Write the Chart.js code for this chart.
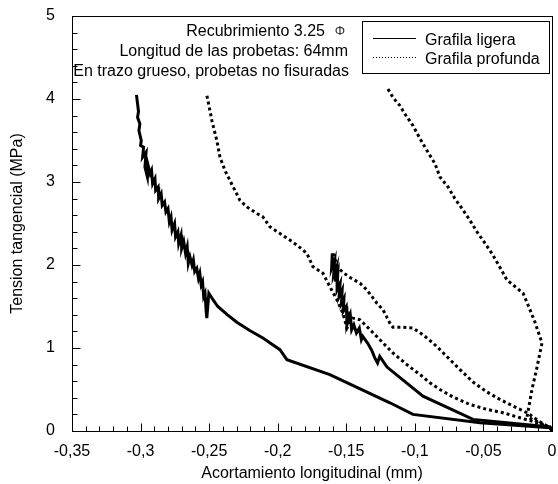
<!DOCTYPE html>
<html>
<head>
<meta charset="utf-8">
<script src="https://cdn.jsdelivr.net/npm/chart.js@4.4.0/dist/chart.umd.min.js"></script>
<style>
html, body { margin: 0; padding: 0; background: #fff; }
</style>
</head>
<body>
<canvas id="grafica" width="558" height="484"></canvas>
<script>
// ejes
const xTickValues = [-0.35, -0.3, -0.25, -0.2, -0.15, -0.1, -0.05, 0];
const xTickLabels = ['-0,35', '-0,3', '-0,25', '-0,2', '-0,15', '-0,1', '-0,05', '0'];
const yTickValues = [0, 1, 2, 3, 4, 5];
const yTickLabels = ['0', '1', '2', '3', '4', '5'];

// Grafila ligera (trazo continuo)
const ligera1X = [-0.3030, -0.3015, -0.3022, -0.3005, -0.3012, -0.2995, -0.3000, -0.2978, -0.2985, -0.2960,
  -0.2968, -0.2950, -0.2945, -0.2930, -0.2920, -0.2912, -0.2895, -0.2890, -0.2872, -0.2868,
  -0.2850, -0.2842, -0.2825, -0.2815, -0.2800, -0.2790, -0.2778, -0.2770, -0.2752, -0.2745,
  -0.2728, -0.2722, -0.2705, -0.2700, -0.2685, -0.2672, -0.2660, -0.2652, -0.2640, -0.2625,
  -0.2615, -0.2605, -0.2590, -0.2578, -0.2568, -0.2558, -0.2548, -0.2540, -0.2530, -0.2522,
  -0.2517, -0.2502, -0.2467, -0.2437, -0.2366, -0.2298, -0.2204, -0.2108, -0.1984, -0.1933,
  -0.1620, -0.1182, -0.1014, -0.0525, -0.0014, 0];
const ligera1Y = [4.05, 3.85, 3.78, 3.70, 3.62, 3.50, 3.44, 3.42, 3.30, 3.36,
  3.18, 3.06, 3.20, 3.10, 3.14, 2.98, 3.04, 2.90, 2.94, 2.80,
  2.86, 2.72, 2.76, 2.64, 2.68, 2.52, 2.58, 2.42, 2.50, 2.34,
  2.40, 2.26, 2.36, 2.20, 2.28, 2.14, 2.22, 2.02, 2.10, 2.00,
  2.06, 1.92, 1.96, 1.84, 1.90, 1.76, 1.80, 1.62, 1.66, 1.45,
  1.36, 1.66, 1.57, 1.50, 1.40, 1.31, 1.21, 1.12, 0.98, 0.86,
  0.68, 0.34, 0.20, 0.10, 0.04, 0];

const ligera2X = [-0.1602, -0.1607, -0.1585, -0.1592, -0.1570, -0.1580, -0.1562, -0.1567, -0.1545, -0.1552,
  -0.1530, -0.1535, -0.1517, -0.1522, -0.1500, -0.1496, -0.1485, -0.1491, -0.1471, -0.1461,
  -0.1445, -0.1426, -0.1405, -0.1390, -0.1380, -0.1345, -0.1314, -0.1292, -0.1272, -0.1256,
  -0.1203, -0.0941, -0.0576, -0.0014, 0];
const ligera2Y = [2.14, 1.96, 2.06, 1.88, 1.98, 1.80, 1.90, 1.70, 1.78, 1.62,
  1.70, 1.54, 1.60, 1.44, 1.50, 1.36, 1.44, 1.30, 1.40, 1.22,
  1.28, 1.18, 1.24, 1.10, 1.14, 1.06, 0.97, 0.88, 0.82, 0.90,
  0.77, 0.42, 0.14, 0.05, 0];

// Grafila profunda (trazo punteado)
const profunda1X = [-0.2516, -0.2480, -0.2444, -0.2421, -0.2385, -0.2349, -0.2312, -0.2276, -0.2225, -0.2151,
  -0.2108, -0.2057, -0.1984, -0.1911, -0.1860, -0.1787, -0.1743, -0.1670, -0.1620, -0.1568,
  -0.1525, -0.1495, -0.1452, -0.1400, -0.1327, -0.1255, -0.1160, -0.1036, -0.0962, -0.0890,
  -0.0817, -0.0722, -0.0599, -0.0474, -0.0358, -0.0234, -0.0109, -0.0014, 0];
const profunda1Y = [4.04, 3.74, 3.50, 3.30, 3.14, 3.02, 2.90, 2.78, 2.70, 2.62,
  2.58, 2.46, 2.38, 2.30, 2.24, 2.14, 1.98, 1.90, 1.74, 1.58,
  1.42, 1.24, 1.36, 1.34, 1.22, 1.10, 0.94, 0.77, 0.68, 0.58,
  0.50, 0.41, 0.32, 0.26, 0.22, 0.16, 0.10, 0.04, 0];

const profunda2X = [-0.1597, -0.1561, -0.1525, -0.1473, -0.1400, -0.1350, -0.1277, -0.1232, -0.1182, -0.1160,
  -0.1087, -0.1014, -0.0941, -0.0868, -0.0817, -0.0744, -0.0671, -0.0576, -0.0474, -0.0379,
  -0.0284, -0.0182, -0.0088, -0.0014, 0];
const profunda2Y = [2.14, 1.97, 1.91, 1.85, 1.78, 1.70, 1.54, 1.46, 1.30, 1.25,
  1.25, 1.24, 1.16, 1.06, 0.98, 0.86, 0.74, 0.59, 0.47, 0.38,
  0.30, 0.22, 0.11, 0.04, 0];

const profunda3X = [-0.1196, -0.1160, -0.1109, -0.1073, -0.1014, -0.0962, -0.0912, -0.0853, -0.0817, -0.0758,
  -0.0708, -0.0656, -0.0599, -0.0547, -0.0488, -0.0431, -0.0379, -0.0329, -0.0284, -0.0211,
  -0.0175, -0.0124, -0.0073, -0.0109, -0.0146, -0.0182, -0.0014, 0];
const profunda3Y = [4.12, 4.02, 3.92, 3.82, 3.68, 3.52, 3.38, 3.22, 3.06, 2.94,
  2.80, 2.68, 2.54, 2.40, 2.26, 2.12, 1.97, 1.82, 1.76, 1.66,
  1.52, 1.31, 1.06, 0.77, 0.50, 0.17, 0.04, 0];

const leyendaTextos = ['Grafila ligera', 'Grafila profunda'];
const notas = ['Recubrimiento 3.25', 'Longitud de las probetas: 64mm', 'En trazo grueso, probetas no fisuradas'];

const FUENTE = "'Liberation Sans', Arial, sans-serif";

function puntos(xs, ys) {
  return xs.map((x, i) => ({ x: x, y: ys[i] }));
}

function serie(xs, ys, punteada) {
  return {
    data: puntos(xs, ys),
    borderColor: '#000',
    borderWidth: 3,
    borderDash: punteada ? [3, 3] : [],
    borderCapStyle: 'butt',
    borderJoinStyle: 'miter',
    pointRadius: 0,
    showLine: true,
    tension: 0,
    fill: false
  };
}

// marco, marcas de los ejes, notas y leyenda
const extras = {
  id: 'extras',
  afterDatasetsDraw(chart) {
    const { ctx, chartArea: a, scales: { x, y } } = chart;
    const L = Math.round(a.left) + 0.5, R = Math.round(a.right) + 0.5;
    const T = Math.round(a.top) + 0.5, B = Math.round(a.bottom) + 0.5;
    ctx.save();
    ctx.strokeStyle = '#000';
    ctx.lineWidth = 1;
    ctx.setLineDash([]);
    ctx.strokeRect(L, T, R - L, B - T);

    ctx.beginPath();
    for (let i = 0; i <= 35; i++) {
      const px = Math.round(x.getPixelForValue(-0.35 + i * 0.01)) + 0.5;
      const len = i % 5 === 0 ? 8 : 5;
      ctx.moveTo(px, B);
      ctx.lineTo(px, B - len);
    }
    for (let i = 0; i <= 25; i++) {
      const py = Math.round(y.getPixelForValue(i * 0.2)) + 0.5;
      const len = i % 5 === 0 ? 8 : 5;
      ctx.moveTo(L, py);
      ctx.lineTo(L + len, py);
    }
    ctx.stroke();

    // notas
    ctx.fillStyle = '#000';
    ctx.font = '16px ' + FUENTE;
    ctx.textAlign = 'right';
    ctx.textBaseline = 'alphabetic';
    ctx.fillText(notas[0], 325, 36);
    ctx.fillText(notas[1], 348, 56);
    ctx.fillText(notas[2], 349, 76);
    ctx.font = '13px ' + FUENTE;
    ctx.textAlign = 'center';
    ctx.fillStyle = '#333';
    ctx.fillText('\u03A6', 340, 35);

    // leyenda
    ctx.fillStyle = '#fff';
    ctx.fillRect(362.5, 21.5, 187, 52);
    ctx.strokeStyle = '#000';
    ctx.strokeRect(362.5, 21.5, 187, 52);
    ctx.beginPath();
    ctx.moveTo(373, 38.5);
    ctx.lineTo(416, 38.5);
    ctx.stroke();
    ctx.setLineDash([1, 2]);
    ctx.beginPath();
    ctx.moveTo(373, 57.5);
    ctx.lineTo(416, 57.5);
    ctx.stroke();
    ctx.setLineDash([]);
    ctx.fillStyle = '#000';
    ctx.font = '16px ' + FUENTE;
    ctx.textAlign = 'left';
    ctx.fillText(leyendaTextos[0], 425, 45);
    ctx.fillText(leyendaTextos[1], 425, 63.5);
    ctx.restore();
  }
};

new Chart(document.getElementById('grafica'), {
  type: 'scatter',
  data: {
    datasets: [
      serie(ligera1X, ligera1Y, false),
      serie(ligera2X, ligera2Y, false),
      serie(profunda1X, profunda1Y, true),
      serie(profunda2X, profunda2Y, true),
      serie(profunda3X, profunda3Y, true)
    ]
  },
  options: {
    responsive: false,
    animation: false,
    events: [],
    layout: { padding: { top: 16, right: 6, left: 0, bottom: 0 } },
    plugins: { legend: { display: false }, tooltip: { enabled: false } },
    scales: {
      x: {
        type: 'linear',
        min: -0.35,
        max: 0,
        grid: { display: false, drawTicks: false },
        border: { display: false },
        afterBuildTicks(scale) { scale.ticks = xTickValues.map(v => ({ value: v })); },
        afterFit(scale) {
          scale.height = 53;
          scale.paddingLeft = 0;
          scale.paddingRight = 0;
        },
        ticks: {
          padding: 11,
          color: '#000',
          font: { family: FUENTE, size: 16 },
          maxRotation: 0,
          autoSkip: false,
          callback: (v, i) => xTickLabels[i]
        },
        title: {
          display: true,
          text: 'Acortamiento longitudinal (mm)',
          color: '#000',
          font: { family: FUENTE, size: 16 },
          padding: { top: 0, bottom: 1 }
        }
      },
      y: {
        type: 'linear',
        min: 0,
        max: 5,
        grid: { display: false, drawTicks: false },
        border: { display: false },
        afterBuildTicks(scale) { scale.ticks = yTickValues.map(v => ({ value: v })); },
        afterFit(scale) {
          scale.width = 72;
          scale.paddingTop = 0;
          scale.paddingBottom = 0;
        },
        ticks: {
          padding: 17,
          color: '#000',
          font: { family: FUENTE, size: 16 },
          callback: (v, i) => yTickLabels[i]
        },
        title: {
          display: true,
          text: 'Tension tangencial (MPa)',
          color: '#000',
          font: { family: FUENTE, size: 16 },
          padding: { top: 8, bottom: 0 }
        }
      }
    }
  },
  plugins: [extras]
});
</script>
</body>
</html>
